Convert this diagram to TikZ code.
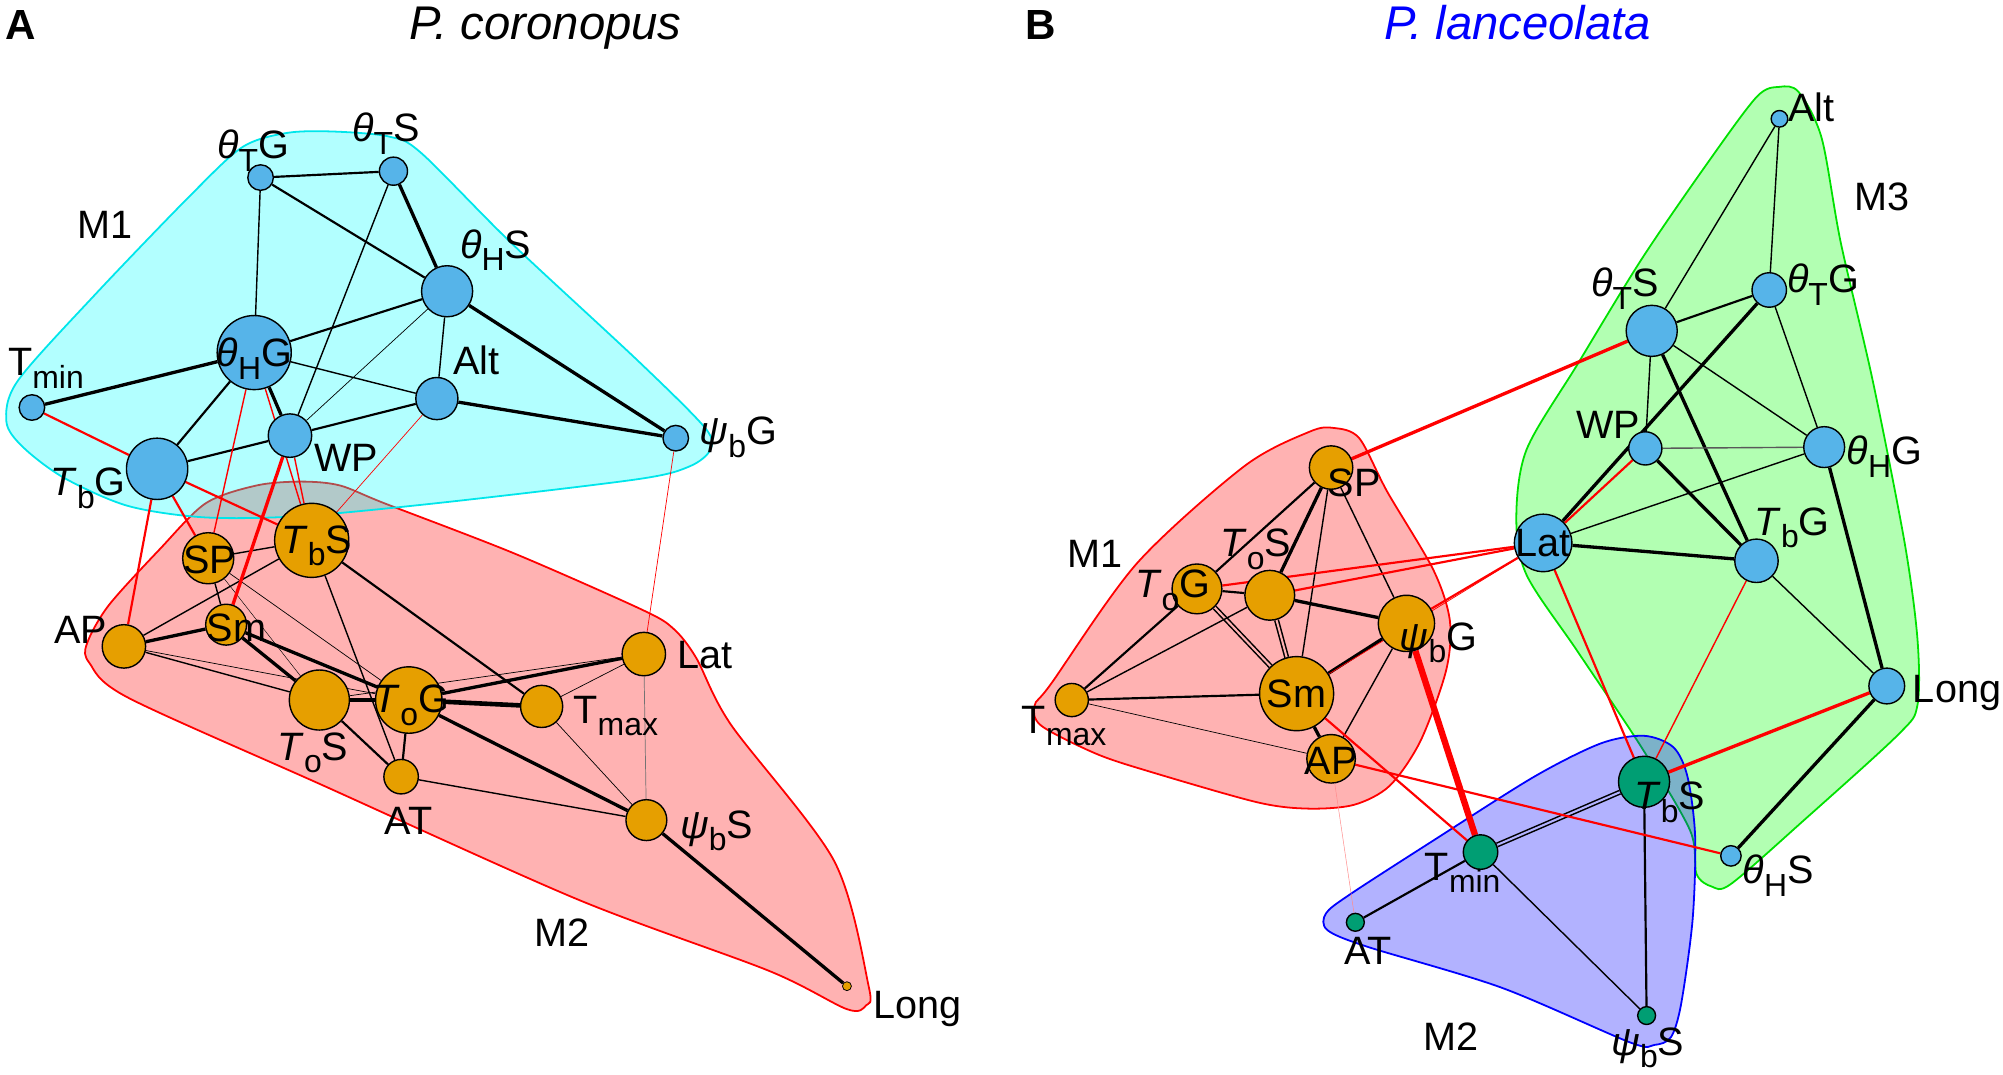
\documentclass[tikz,border=0pt]{standalone}
\usepackage{fontspec}
\setmainfont{Liberation Sans}
\definecolor{nodeblue}{HTML}{56B4E9}
\definecolor{nodeorange}{HTML}{E69F00}
\definecolor{nodegreen}{HTML}{009E73}
\definecolor{hullgreen}{RGB}{0,225,0}
\definecolor{hullcyan}{RGB}{0,230,235}
\definecolor{fcyan}{RGB}{0,255,255}
\definecolor{fred}{RGB}{255,0,0}
\definecolor{fgreen}{RGB}{0,255,0}
\definecolor{fblue}{RGB}{0,0,255}
\definecolor{pinkin}{RGB}{255,178,178}
\definecolor{bluein}{RGB}{178,178,255}
\definecolor{titleblue}{RGB}{0,0,255}
\pgfdeclarelayer{hulls}
\pgfdeclarelayer{edges}
\pgfsetlayers{hulls,edges,main}
\newcommand\sbs[1]{\raisebox{-0.32em}{\fontsize{25}{25}\selectfont #1}}
\tikzset{
  nd/.style={circle, draw=black, line width=1.1pt, inner sep=0pt, minimum size=2*#1},
  nb/.style={nd=#1, fill=nodeblue},
  no/.style={nd=#1, fill=nodeorange},
  ng/.style={nd=#1, fill=nodegreen},
  lab/.style={anchor=base, inner sep=0pt, font=\fontsize{31}{31}\selectfont},
  ttl/.style={anchor=base, inner sep=0pt, font=\fontsize{37}{37}\selectfont\itshape},
  pnl/.style={anchor=base, inner sep=0pt, font=\fontsize{33}{33}\selectfont\bfseries},
  w1/.style={line width=0.55pt},
  w2/.style={line width=1.1pt},
  w3/.style={line width=1.7pt},
  w4/.style={line width=2.6pt},
  w5/.style={line width=3.6pt},
  w6/.style={line width=5pt},
  rd/.style={draw=fred},
  dbl/.style={double=#1, double distance=1.6pt, line width=1.2pt},
  hull/.style={line width=1.4pt, fill opacity=0.3},
}
\begin{document}
\begin{tikzpicture}[x=1pt, y=-1pt]
\useasboundingbox (0,0) rectangle (1568,841);

% ---------- titles ----------
\node[pnl] (pA) at (16,31) {A};
\node[pnl] (pB) at (815,31) {B};
\node[ttl] (tA) at (427,31) {P. coronopus};
\node[ttl, text=titleblue] (tB) at (1188,31) {P. lanceolata};

% ---------- panel A nodes ----------
\node[nb=10]   (tTG)  at (204,139) {};
\node[nb=11]   (tTS)  at (308,134) {};
\node[nb=20]   (tHS)  at (350,228) {};
\node[nb=29]   (tHG)  at (199,276) {};
\node[nb=16.5] (Alt)  at (342,312) {};
\node[nb=10]   (Tmin) at (25,319) {};
\node[nb=10]   (pG)   at (529,343) {};
\node[nb=17]   (WP)   at (227,341) {};
\node[nb=24]   (TbG)  at (123,367) {};
\node[no=29]   (TbS)  at (244,423) {};
\node[no=20]   (SP)   at (163,437) {};
\node[no=16]   (Sm)   at (177,489) {};
\node[no=17]   (AP)   at (97,506) {};
\node[no=17]   (Lat)  at (504,512) {};
\node[no=23.5] (ToS)  at (250,548) {};
\node[no=26]   (ToG)  at (320,548) {};
\node[no=16.5] (Tmax) at (424,553) {};
\node[no=13.5] (AT)   at (314,608) {};
\node[no=16]   (pS)   at (506,642) {};
\node[no=3.5, line width=0.6pt] (Long) at (663,772) {};

% ---------- panel B nodes ----------
\node[nb=6.5]  (bAlt)  at (1393,93) {};
\node[nb=13.5] (btTG)  at (1385,227) {};
\node[nb=20]   (btTS)  at (1293,259) {};
\node[nb=13]   (bWP)   at (1288,351) {};
\node[nb=16]   (btHG)  at (1428,350) {};
\node[nb=22.5] (bLat)  at (1208,425) {};
\node[nb=17]   (bTbG)  at (1375,439) {};
\node[nb=14]   (bLong) at (1477,537) {};
\node[nb=8]    (btHS)  at (1355,670) {};
\node[no=17]   (bSP)   at (1042,366) {};
\node[no=19.5] (bToG)  at (937,461) {};
\node[no=19.5] (bToS)  at (994,466) {};
\node[no=22]   (bpG)   at (1101,488) {};
\node[no=29]   (bSm)   at (1015,543) {};
\node[no=13]   (bTmax) at (839,548) {};
\node[no=19]   (bAP)   at (1042,594) {};
\node[ng=20]   (bTbS)  at (1287,612) {};
\node[ng=13.5] (bTmin) at (1159,667) {};
\node[ng=7]    (bAT)   at (1061,722) {};
\node[ng=7]    (bpS)   at (1289,795) {};

% ---------- hulls ----------
\begin{pgfonlayer}{hulls}
\filldraw[hull, fill=fred, draw=fred] plot[smooth cycle, tension=0.5] coordinates {
 (236,377) (266,380) (301,394) (402,433) (502,477) (527,492) (545,515) (572,567)
 (653,674) (680,772) (678,787) (663,790) (602,760) (452,704) (251,614) (100,546)
 (70,519) (68,504) (85,474) (125,430) (161,394) (201,380)};
\filldraw[hull, fill=fcyan, draw=hullcyan] plot[smooth cycle, tension=0.5] coordinates {
 (262,103) (305,107) (330,120) (400,190) (500,283) (552,335) (556,352) (540,365)
 (500,375) (350,393) (236,404) (160,405) (100,396) (50,374) (18,350) (5,330)
 (14,298) (75,230) (150,152) (190,115) (225,104)};
\filldraw[hull, fill=fred, draw=fred] plot[smooth cycle, tension=0.5] coordinates {
 (1044,335) (1064,343) (1086,385) (1122,446) (1135,486) (1132,525) (1112,580)
 (1088,615) (1060,630) (1024,633) (984,628) (900,604) (858,590) (815,568)
 (810,552) (823,535) (890,441) (974,365) (1025,338)};
\filldraw[hull, fill=fgreen, draw=hullgreen] plot[smooth cycle, tension=0.5] coordinates {
 (1393,68) (1408,72) (1426,108) (1441,190) (1466,298) (1491,425) (1501,500)
 (1501,552) (1486,575) (1410,644) (1355,692) (1340,694) (1328,684) (1323,650)
 (1285,585) (1235,510) (1195,450) (1187,406) (1195,352) (1235,285) (1285,203)
 (1335,130) (1375,76)};
\filldraw[hull, fill=fblue, draw=fblue] plot[smooth cycle, tension=0.5] coordinates {
 (1287,576) (1310,585) (1321,608) (1327,655) (1325,720) (1316,786) (1308,812)
 (1295,818) (1276,816) (1175,773) (1070,741) (1039,728) (1038,715) (1057,700)
 (1122,658) (1201,608) (1253,582)};
\end{pgfonlayer}

% ---------- edges ----------
\begin{pgfonlayer}{edges}
% panel A, module M1
\draw[w3] (tTG) -- (tTS);
\draw[w2] (tTG) -- (tHG);
\draw[w3] (tTG) -- (tHS);
\draw[w4] (tTS) -- (tHS);
\draw[w2] (tTS) -- (WP);
\draw[w3] (tHS) -- (tHG);
\draw[w2] (tHS) -- (Alt);
\draw[w4] (tHS) -- (pG);
\draw[w1] (tHS) -- (WP);
\draw[w4] (tHG) -- (Tmin);
\draw[w2] (tHG) -- (Alt);
\draw[w3] (tHG) -- (TbG);
\draw[w4] (tHG) -- (WP);
\draw[w3] (Alt) -- (WP);
\draw[w4] (Alt) -- (pG);
\draw[w3] (TbG) -- (WP);
% panel A, module M2
\draw[w2] (SP) -- (TbS);
\draw[w2] (SP) -- (Sm);
\draw[w1] (SP) -- (ToG);
\draw[line width=0.35pt] (SP) -- (ToS);
\draw[w2] (TbS) -- (AP);
\draw[w2] (TbS) -- (AT);
\draw[w3] (TbS) -- (Tmax);
\draw[w4] (AP) -- (Sm);
\draw[w2] (AP) -- (ToS);
\draw[w1] (AP) -- (ToG);
\draw[w4] (Sm) -- (ToS);
\draw[w4] (Sm) -- (ToG);
\draw[w4] (ToS) -- (ToG);
\draw[w3] (ToS) -- (AT);
\draw[w3] (ToG) -- (AT);
\draw[w4] (ToG) -- (Lat);
\draw[w1] (ToS) -- (Lat);
\draw[w5] (ToG) -- (Tmax);
\draw[w4] (ToG) -- (pS);
\draw[w1] (Tmax) -- (Lat);
\draw[w1] (Tmax) -- (pS);
\draw[w1, draw=black!55] (Lat) -- (pS);
\draw[w2] (AT) -- (pS);
\draw[w4] (pS) -- (Long);
% panel A, between modules
\draw[w3, rd] (Tmin) -- (TbG);
\draw[w3, rd] (TbG) -- (TbS);
\draw[w3, rd] (TbG) -- (AP);
\draw[w3, rd] (TbG) -- (SP);
\draw[w2, rd] (tHG) -- (SP);
\draw[w2, rd] (tHG) -- (TbS);
\draw[w2, rd] (WP) -- (TbS);
\draw[w4, rd] (WP) -- (Sm);
\draw[w1, rd] (Alt) -- (TbS);
\draw[w1, rd] (pG) -- (Lat);

% panel B, module M3
\draw[w2] (bAlt) -- (btTS);
\draw[w2] (bAlt) -- (btTG);
\draw[w3] (btTS) -- (btTG);
\draw[w2] (btTS) -- (bWP);
\draw[w2] (btTS) -- (btHG);
\draw[w4] (btTS) -- (bTbG);
\draw[w2] (btTG) -- (btHG);
\draw[w4] (btTG) -- (bLat);
\draw[w2, draw=black!65] (bWP) -- (btHG);
\draw[w4] (bWP) -- (bTbG);
\draw[w2] (btHG) -- (bLat);
\draw[w4] (btHG) -- (bLong);
\draw[w4] (bLat) -- (bTbG);
\draw[w2] (bTbG) -- (bLong);
\draw[w4] (bLong) -- (btHS);
% panel B, module M1
\draw[w3] (bSP) -- (bToG);
\draw[w4] (bSP) -- (bToS);
\draw[w2] (bSP) -- (bSm);
\draw[w2] (bSP) -- (bpG);
\draw[w3] (bToG) -- (bToS);
\draw[dbl=pinkin] (bToG) -- (bSm);
\draw[w3] (bToG) -- (bTmax);
\draw[w2] (bToS) -- (bTmax);
\draw[dbl=pinkin] (bToS) -- (bSm);
\draw[w4] (bToS) -- (bpG);
\draw[w4] (bSm) -- (bpG);
\draw[w3] (bSm) -- (bTmax);
\draw[w1] (bTmax) -- (bAP);
\draw[w2] (bpG) -- (bAP);
\draw[w4] (bSm) -- (bAP);
% panel B, module M2
\draw[dbl=bluein] (bTmin) -- (bTbS);
\draw[w3] (bTmin) -- (bAT);
\draw[w2] (bTmin) -- (bpS);
\draw[w3] (bTbS) -- (bpS);
% panel B, between modules
\draw[w4, rd] (bSP) -- (btTS);
\draw[w3, rd] (bWP) -- (bLat);
\draw[w3, rd] (bToG) -- (bLat);
\draw[w3, rd] (bToS) -- (bLat);
\draw[w3, rd] (bpG) -- (bLat);
\draw[w1, rd] (bSm) -- (bLat);
\draw[w3, rd] (bLat) -- (bTbS);
\draw[w2, rd] (bTbG) -- (bTbS);
\draw[w4, rd] (bLong) -- (bTbS);
\draw[w3, rd] (bAP) -- (btHS);
\draw[w3, rd] (bSm) -- (bTmin);
\draw[w6, rd] (bpG) -- (bTmin);
\draw[line width=0.4pt, draw=fred!45] (bAP) -- (bAT);
\end{pgfonlayer}

% ---------- labels panel A ----------
\node[lab] (l-tTG) at (198,124) {\textit{θ}\sbs{T}G};
\node[lab] (l-tTS) at (302,111) {\textit{θ}\sbs{T}S};
\node[lab] (l-tHS) at (388,202) {\textit{θ}\sbs{H}S};
\node[lab] (l-tHG) at (199,287) {\textit{θ}\sbs{H}G};
\node[lab] (l-Alt) at (373,293) {Alt};
\node[lab] (l-Tmin) at (36,294) {T\sbs{min}};
\node[lab] (l-pG) at (578,348) {\textit{ψ}\sbs{b}G};
\node[lab] (l-WP) at (271,369) {WP};
\node[lab] (l-TbG) at (69,388) {\textit{T}\sbs{b}G};
\node[lab] (l-TbS) at (248,433) {\textit{T}\sbs{b}S};
\node[lab] (l-SP) at (164,449) {SP};
\node[lab] (l-Sm) at (185,502) {Sm};
\node[lab] (l-AP) at (63,504) {AP};
\node[lab] (l-Lat) at (552,523) {Lat};
\node[lab] (l-ToG) at (322,558) {\textit{T}\sbs{o}G};
\node[lab] (l-Tmax) at (482,566) {T\sbs{max}};
\node[lab] (l-ToS) at (245,595) {\textit{T}\sbs{o}S};
\node[lab] (l-AT) at (320,653) {AT};
\node[lab] (l-pS) at (561,656) {\textit{ψ}\sbs{b}S};
\node[lab] (l-Long) at (718,797) {Long};
\node[lab] (l-M1) at (82,187) {M1};
\node[lab] (l-M2) at (440,741) {M2};

% ---------- labels panel B ----------
\node[lab] (m-Alt) at (1418,95) {Alt};
\node[lab] (m-M3) at (1473,165) {M3};
\node[lab] (m-tTS) at (1272,232) {\textit{θ}\sbs{T}S};
\node[lab] (m-tTG) at (1427,229) {\textit{θ}\sbs{T}G};
\node[lab] (m-WP) at (1259,343) {WP};
\node[lab] (m-tHG) at (1475,364) {\textit{θ}\sbs{H}G};
\node[lab] (m-TbG) at (1403,419) {\textit{T}\sbs{b}G};
\node[lab] (m-Lat) at (1208,436) {Lat};
\node[lab] (m-SP) at (1060,389) {SP};
\node[lab] (m-ToS) at (983,436) {\textit{T}\sbs{o}S};
\node[lab] (m-ToG) at (918,468) {\textit{T}\sbs{o}G};
\node[lab] (m-pG) at (1126,509) {\textit{ψ}\sbs{b}G};
\node[lab] (m-Sm) at (1015,554) {Sm};
\node[lab] (m-Tmax) at (833,574) {T\sbs{max}};
\node[lab] (m-AP) at (1042,606) {AP};
\node[lab] (m-M1) at (857,444) {M1};
\node[lab] (m-Long) at (1532,550) {Long};
\node[lab] (m-tHS) at (1392,692) {\textit{θ}\sbs{H}S};
\node[lab] (m-Tmin) at (1145,689) {T\sbs{min}};
\node[lab] (m-TbS) at (1307,634) {\textit{T}\sbs{b}S};
\node[lab] (m-AT) at (1071,755) {AT};
\node[lab] (m-pS) at (1290,826) {\textit{ψ}\sbs{b}S};
\node[lab] (m-M2) at (1136,822) {M2};
\end{tikzpicture}
\end{document}
